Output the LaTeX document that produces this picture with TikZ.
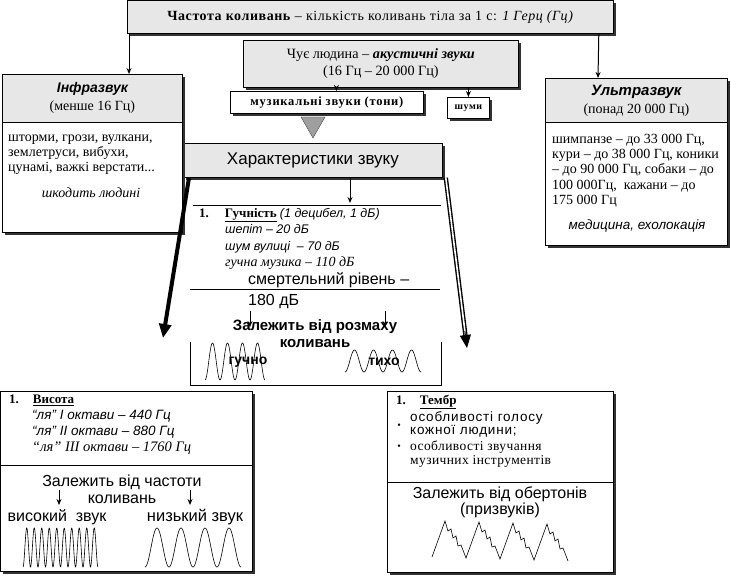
\documentclass[tikz,border=0pt]{standalone}
\usepackage{fontspec}
\setmainfont{Liberation Serif}
\setsansfont{Liberation Sans}
\usetikzlibrary{arrows.meta,positioning,shadows,calc}
\definecolor{boxgray}{RGB}{231,231,231}
\begin{document}
\begin{tikzpicture}[x=1pt,y=-1pt]
\tikzstyle{every node}=[inner sep=0pt]
\tikzset{frame/.style={draw, fill=white, line width=0.8pt, anchor=north west, drop shadow={shadow xshift=2.5pt, shadow yshift=-2.5pt, fill=black!80, opacity=1}}}
\tikzset{grayframe/.style={frame, fill=boxgray}}
\tikzset{head/.style={draw, fill=boxgray, line width=0.8pt, anchor=north west, align=center, font=\fontsize{14}{18}\selectfont}}
\tikzset{txt/.style={align=left, anchor=north west, font=\fontsize{14}{15}\selectfont}}
\tikzset{arr/.style={-{Stealth[length=6pt, width=5pt]}, line width=1pt}}
\tikzset{wave/.style={line width=0.6pt}}
\useasboundingbox (0,0) rectangle (731,577);
\node[grayframe, minimum width=486pt, minimum height=33pt, font=\fontsize{14}{16}\selectfont\addfontfeatures{LetterSpace=4}] (FREQ) at (127,0) {\textbf{Частота коливань} – кількість коливань тіла за 1 с: \textit{1 Герц (Гц)}};
\node[grayframe, minimum width=275pt, minimum height=47pt, align=center, font=\fontsize{14.2}{17}\selectfont] (HUMAN) at (243,40) {Чує людина – \textbf{\textit{акустичні звуки}}\\(16 Гц – 20 000 Гц)};
\node[frame, minimum width=193pt, minimum height=22pt, font=\bfseries\fontsize{12.5}{13}\selectfont\addfontfeatures{LetterSpace=6}] (MUSIC) at (230,91) {музикальні звуки (тони)};
\node[frame, minimum width=42pt, minimum height=21pt, font=\bfseries\fontsize{10}{11}\selectfont\addfontfeatures{LetterSpace=6}] (NOISE) at (447,97) {шуми};
\draw[fill=gray!75, draw=black!70] (301,117) -- (325,117) -- (313,138) -- cycle;
\node[grayframe, minimum width=259pt, minimum height=34pt, font=\sffamily\fontsize{17}{19}\selectfont] (CHAR) at (183,143) {Характеристики звуку};

\node[frame, minimum width=180pt, minimum height=158pt] (INFRA) at (2,74) {};
\node[head, minimum width=180pt, minimum height=48pt] (INFRAHEAD) at (INFRA.north west) {{\sffamily\bfseries\itshape\fontsize{14}{18}\selectfont Інфразвук}\\(менше 16 Гц)};
\node[txt] (INFRATXT) at (8,135) {шторми, грози, вулкани,\\землетруси, вибухи,\\цунамі, важкі верстати...};
\node[font=\itshape\fontsize{14}{16}\selectfont] (INFRAHARM) at (91,193) {шкодить людині};

\node[frame, minimum width=182pt, minimum height=167pt] (ULTRA) at (545,78) {};
\node[head, minimum width=182pt, minimum height=44pt] (ULTRAHEAD) at (ULTRA.north west) {{\sffamily\bfseries\itshape\fontsize{15}{18}\selectfont Ультразвук}\\(понад 20 000 Гц)};
\node[txt, font=\fontsize{14}{15.2}\selectfont] (ULTRATXT) at (552,134) {шимпанзе – до 33 000 Гц,\\кури – до 38 000 Гц, коники\\– до 90 000 Гц, собаки – до\\100 000Гц,\ \ кажани – до\\175 000 Гц};
\node[font=\sffamily\itshape\fontsize{13.5}{15}\selectfont] (ULTRAUSE) at (637,226) {медицина, ехолокація};

\draw[arr] ([xshift=2pt]FREQ.south west) -- ([xshift=127pt]INFRA.north west);
\draw[arr] ([xshift=-15pt]FREQ.south east) -- ([xshift=53pt]ULTRA.north west);
\draw[arr] ([xshift=-44.5pt]HUMAN.south) -- ([xshift=9.5pt]MUSIC.north);
\draw[arr] (HUMAN.south -| NOISE.north) -- (NOISE.north);

\coordinate (LOUDIN) at (350,203);
\draw[arr] (CHAR.south -| LOUDIN) -- (LOUDIN);
\draw[line width=0.8pt] (193,205) -- (441,205);
\node[txt, font=\fontsize{13}{16.5}\selectfont] (LOUD) at (199,208) {\textbf{1.}\hspace{16pt}\textbf{\underline{Гучність}} {\sffamily\itshape\fontsize{12.5}{16.5}\selectfont(1 децибел, 1 дБ)}\\
\hspace{26pt}{\sffamily\itshape\fontsize{12.5}{16.5}\selectfont шепіт – 20 дБ}\\
\hspace{26pt}{\sffamily\itshape\fontsize{12.5}{16.5}\selectfont шум вулиці\ \ – 70 дБ}\\
\hspace{26pt}\textit{\fontsize{14}{16.5}\selectfont гучна музика – 110 дБ}};
\node[txt, font=\sffamily\fontsize{16}{21}\selectfont] (DEATH) at (248,272) {смертельний рівень –\\180 дБ};
\draw[line width=0.8pt] (190,289) -- (440,289);
\coordinate (LOUDA) at (250,311);
\coordinate (QUIETA) at (385,311);
\draw[arr] (LOUDA) -- ++(0,16);
\draw[arr] (QUIETA) -- ++(0,16);
\node[align=center, font=\sffamily\bfseries\fontsize{15}{17}\selectfont] (AMP) at (315,334) {Залежить від розмаху\\коливань};
\draw[line width=0.8pt] (190,342) -- (190,385) -- (441,385) -- (441,342);
\draw[wave] plot[domain=0:60, samples=121, smooth] ({205+\x},{361.5+18.5*cos(24*\x)});
\draw[wave] plot[domain=0:76, samples=121, smooth] ({345+\x},{361+11*cos(360/19*\x)});
\node[font=\sffamily\bfseries\fontsize{14}{16}\selectfont] (LOUDLBL) at (248,362) {гучно};
\node[font=\sffamily\bfseries\fontsize{14}{16}\selectfont] (QUIETLBL) at (384,362) {тихо};

\coordinate (PITCHTIP) at (163,338);
\draw[line width=4pt, -{Triangle[length=14pt, width=12pt]}] ([xshift=6pt]CHAR.south west) -- (PITCHTIP);
\coordinate (TIMBREOUT) at ([xshift=3pt]CHAR.south east);
\coordinate (TIMBRETIP) at (467,348);
\draw[double=white, double distance=1.6pt, line width=1.4pt, shorten >=10pt] (TIMBREOUT) -- (TIMBRETIP);
\draw[-{Triangle[length=13pt, width=11pt]}, line width=1pt] ($(TIMBREOUT)!0.9!(TIMBRETIP)$) -- (TIMBRETIP);

\node[frame, minimum width=252pt, minimum height=180pt] (PITCH) at (0,391) {};
\draw[line width=0.8pt] ([yshift=16pt]PITCH.west) -- ([yshift=16pt]PITCH.east);
\node[txt, font=\fontsize{13}{16}\selectfont] (PITCHTXT) at (9,395) {\textbf{1.}\hspace{14pt}\textbf{\underline{Висота}}\\
\hspace{23pt}{\sffamily\itshape\fontsize{13.5}{16}\selectfont “ля” I октави – 440 Гц}\\
\hspace{23pt}{\sffamily\itshape\fontsize{13.5}{16}\selectfont “ля” II октави – 880 Гц}\\
\hspace{23pt}\textit{\fontsize{14.5}{16}\selectfont “ля” III октави – 1760 Гц}};
\node[align=center, font=\sffamily\fontsize{16}{17}\selectfont] (FREQDEP) at (122,489) {Залежить від частоти\\коливань};
\coordinate (HIGHA) at (59,490);
\coordinate (LOWA) at (190,490);
\draw[arr] (HIGHA) -- ++(0,15);
\draw[arr] (LOWA) -- ++(0,15);
\node[font=\sffamily\fontsize{16}{18}\selectfont] (HIGHLBL) at (57,517) {високий\ \ звук};
\node[font=\sffamily\fontsize{16.5}{18}\selectfont] (LOWLBL) at (195,517) {низький звук};
\draw[wave] plot[domain=0:75, samples=300, smooth] ({23+\x},{547.5+19.5*cos(48*\x)});
\draw[wave] plot[domain=0:96, samples=200, smooth] ({145+\x},{547.5+19.5*cos(15*\x)});

\node[frame, minimum width=226pt, minimum height=181pt] (TIMBRE) at (387,391) {};
\draw[line width=0.8pt] (TIMBRE.west) -- (TIMBRE.east);
\node[txt, font=\fontsize{13}{16}\selectfont] (TIMBRETXT) at (396,395) {\textbf{1.}\hspace{14pt}\textbf{\underline{Тембр}}};
\node[txt, font=\sffamily\fontsize{13.5}{13}\selectfont\addfontfeatures{LetterSpace=6}] (VOICE) at (410,411) {особливості голосу\\кожної людини;};
\node[txt, font=\fontsize{13.5}{14}\selectfont\addfontfeatures{LetterSpace=3}] (INSTR) at (410,441) {особливості звучання\\музичних інструментів};
\node[font=\fontsize{10}{10}\selectfont] (BULA) at (399,426) {\textbullet};
\node[font=\fontsize{10}{10}\selectfont] (BULB) at (399,447) {\textbullet};
\node[align=center, font=\sffamily\fontsize{16}{16}\selectfont] (OVERT) at (500,502) {Залежить від обертонів\\(призвуків)};
\draw[wave] (432,557) \foreach \t in {1,...,4}{ -- ++(13,-36) -- ++(3,10) -- ++(3,-2) -- ++(2,9) -- ++(3,-2) -- ++(2,10) -- ++(3,-1) -- ++(5,13)};
\end{tikzpicture}
\end{document}
